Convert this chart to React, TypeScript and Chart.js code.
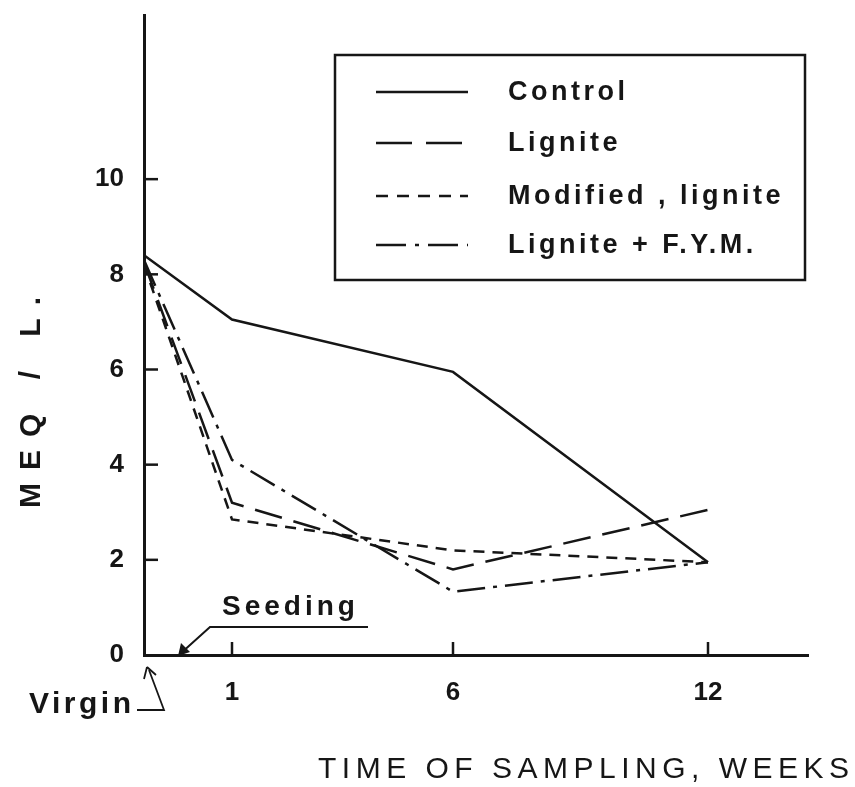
import React, { useEffect, useRef } from "react";
import { Chart, registerables } from "chart.js";

Chart.register(...registerables);

// Sampling times (axis is drawn non-uniformly in the original figure)
const sampleLabels = ["Virgin", "1", "6", "12"];
const samplePos = [0, 0.88, 3.09, 5.64];
const xMax = 6.64;

const yTicks = [0, 2, 4, 6, 8, 10];
const yMax = 13.45;

const seriesNames = ["Control", "Lignite", "Modified , lignite", "Lignite + F.Y.M."];
const control = [8.4, 7.05, 5.95, 1.95];
const lignite = [8.25, 3.2, 1.8, 3.05];
const modifiedLignite = [8.2, 2.85, 2.2, 1.95];
const ligniteFYM = [8.3, 4.1, 1.33, 1.95];

const dashes: number[][] = [[], [28, 12], [11, 8], [28, 8, 4, 8]];
const legendDashes: number[][] = [[], [36, 14], [12, 9], [30, 9, 4, 9]];
const INK = "#161616";
const FONT = "'Liberation Sans', Arial, sans-serif";

const toPts = (vals: number[]) => vals.map((v, i) => ({ x: samplePos[i], y: v }));

const annotate = {
  id: "annotate",
  afterDraw(chart: any) {
    const ctx = chart.ctx as CanvasRenderingContext2D;
    const xs = chart.scales.x;
    const ys = chart.scales.y;
    const ca = chart.chartArea;
    ctx.save();
    ctx.strokeStyle = INK;
    ctx.fillStyle = INK;
    ctx.lineCap = "butt";
    // inward tick marks
    ctx.lineWidth = 2.5;
    yTicks.forEach((v) => {
      if (v === 0) return;
      const y = ys.getPixelForValue(v);
      ctx.beginPath();
      ctx.moveTo(ca.left, y);
      ctx.lineTo(ca.left + 14, y);
      ctx.stroke();
    });
    samplePos.slice(1).forEach((p) => {
      const x = xs.getPixelForValue(p);
      ctx.beginPath();
      ctx.moveTo(x, ca.bottom);
      ctx.lineTo(x, ca.bottom - 13);
      ctx.stroke();
    });

    // legend box
    const bx = 335, by = 55, bw = 470, bh = 225;
    ctx.lineWidth = 2.5;
    ctx.strokeRect(bx, by, bw, bh);
    const rows = [92, 143, 196, 245];
    (ctx as any).letterSpacing = "3.5px";
    ctx.font = `bold 27px ${FONT}`;
    ctx.textBaseline = "middle";
    ctx.textAlign = "left";
    seriesNames.forEach((n, i) => {
      ctx.setLineDash(legendDashes[i]);
      ctx.lineWidth = 2.5;
      ctx.beginPath();
      ctx.moveTo(376, rows[i]);
      ctx.lineTo(468, rows[i]);
      ctx.stroke();
      ctx.setLineDash([]);
      ctx.fillText(n, 508, rows[i] + 1);
    });

    // Seeding annotation
    (ctx as any).letterSpacing = "4px";
    ctx.font = `bold 28px ${FONT}`;
    ctx.fillText("Seeding", 222, 607);
    ctx.lineWidth = 2;
    ctx.beginPath();
    ctx.moveTo(368, 627);
    ctx.lineTo(210, 627);
    ctx.lineTo(180, 654);
    ctx.stroke();
    ctx.beginPath();
    ctx.moveTo(178, 656);
    ctx.lineTo(181, 643);
    ctx.lineTo(190, 652);
    ctx.closePath();
    ctx.fill();

    // Virgin annotation
    (ctx as any).letterSpacing = "3.5px";
    ctx.font = `bold 30px ${FONT}`;
    ctx.fillText("Virgin", 29, 705);
    ctx.lineWidth = 1.8;
    ctx.beginPath();
    ctx.moveTo(137, 710);
    ctx.lineTo(164, 710);
    ctx.lineTo(149, 670);
    ctx.stroke();
    ctx.beginPath();
    ctx.moveTo(147, 667);
    ctx.lineTo(144, 679);
    ctx.moveTo(147, 667);
    ctx.lineTo(156, 675);
    ctx.stroke();

    // y title
    ctx.save();
    ctx.translate(32, 402);
    ctx.rotate(-Math.PI / 2);
    ctx.textAlign = "center";
    (ctx as any).letterSpacing = "13px";
    ctx.font = `bold 30px ${FONT}`;
    ctx.fillText("MEQ / L.", 6, 0);
    ctx.restore();

    // x title
    ctx.textAlign = "left";
    (ctx as any).letterSpacing = "5.5px";
    ctx.font = `30px ${FONT}`;
    ctx.fillText("TIME OF SAMPLING, WEEKS", 318, 770);
    ctx.restore();
  },
};

export default function App() {
  const ref = useRef<HTMLCanvasElement | null>(null);
  useEffect(() => {
    if (!ref.current) return;
    const series = [control, lignite, modifiedLignite, ligniteFYM];
    const chart = new Chart(ref.current, {
      type: "line",
      data: {
        datasets: series.map((s, i) => ({
          label: seriesNames[i],
          data: toPts(s),
          borderColor: INK,
          borderWidth: 2.5,
          borderDash: dashes[i],
          pointRadius: 0,
          tension: 0,
          fill: false,
        })),
      },
      options: {
        animation: false,
        responsive: false,
        maintainAspectRatio: false,
        layout: { padding: { left: 0, top: 15, right: 47, bottom: 0 } },
        plugins: { legend: { display: false }, tooltip: { enabled: false } },
        scales: {
          x: {
            type: "linear",
            min: 0,
            max: xMax,
            grid: { display: false, drawTicks: false },
            border: { display: true, color: INK, width: 3 },
            afterBuildTicks: (scale: any) => {
              scale.ticks = samplePos.slice(1).map((v) => ({ value: v }));
            },
            afterFit: (scale: any) => {
              scale.height = 132;
              scale.paddingLeft = 0;
              scale.paddingRight = 0;
            },
            ticks: {
              padding: 22,
              color: INK,
              font: { family: FONT, size: 26, weight: "bold" },
              callback: (_v: any, i: number) => sampleLabels[i + 1],
              maxRotation: 0,
              autoSkip: false,
            },
          },
          y: {
            min: 0,
            max: yMax,
            grid: { display: false, drawTicks: false },
            border: { display: true, color: INK, width: 3 },
            afterBuildTicks: (scale: any) => {
              scale.ticks = yTicks.map((v) => ({ value: v }));
            },
            afterFit: (scale: any) => {
              scale.width = 144;
              scale.paddingTop = 0;
              scale.paddingBottom = 0;
            },
            ticks: {
              padding: 20,
              color: INK,
              font: { family: FONT, size: 26, weight: "bold" },
            },
          },
        },
      },
      plugins: [annotate],
    } as any);
    return () => chart.destroy();
  }, []);
  return (
    <div style={{ position: "fixed", left: 0, top: 0, width: 855, height: 787, background: "#fff" }}>
      <canvas ref={ref} width={855} height={787} style={{ width: 855, height: 787 }} />
    </div>
  );
}
